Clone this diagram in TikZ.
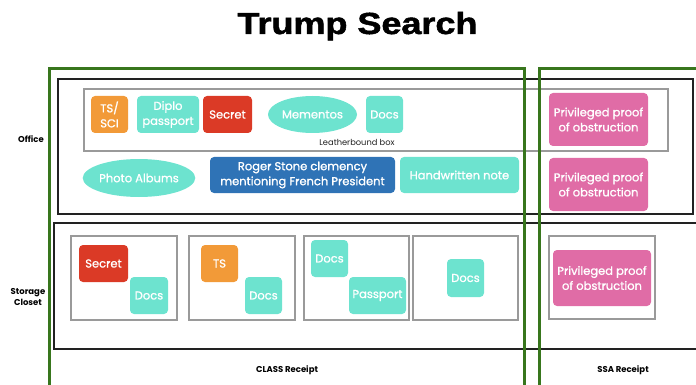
\documentclass[tikz,border=0pt]{standalone}
\usepackage{fontspec}
\setmainfont{Poppins}
\newfontfamily\itemfont{Poppins}[FakeBold=1.1]
\newfontfamily\titlefont{Liberation Sans}[BoldFeatures={FakeBold=1.6}]
\usetikzlibrary{shapes.geometric}
\definecolor{gframe}{HTML}{38761D}
\definecolor{teal}{HTML}{6DE3CF}
\definecolor{orng}{HTML}{F29A38}
\definecolor{redc}{HTML}{DB3A26}
\definecolor{bluec}{HTML}{2F73B6}
\definecolor{pinkc}{HTML}{E06CA6}
\definecolor{grayl}{HTML}{9A9A9A}
\definecolor{darkl}{HTML}{222222}
\tikzset{
  item/.style={rounded corners=4pt, text=white, align=center, inner sep=1pt,
    font=\itemfont\fontsize{11.5}{15}\selectfont, minimum height=37pt},
  tealbox/.style={item, fill=teal},
  orangebox/.style={item, fill=orng},
  redbox/.style={item, fill=redc},
  bluebox/.style={item, fill=bluec},
  pinkbox/.style={item, fill=pinkc},
  tealell/.style={ellipse, fill=teal, text=white, inner sep=0pt,
    font=\itemfont\fontsize{11.5}{15}\selectfont},
  roomframe/.style={draw=darkl, line width=1.5pt},
  grayframe/.style={draw=grayl, line width=1.5pt},
  greenframe/.style={draw=gframe, line width=3pt},
  sidelabel/.style={font=\fontsize{8.5}{11}\selectfont\bfseries, align=center},
}
\begin{document}
\begin{tikzpicture}[x=1pt,y=-1pt]
\useasboundingbox (0,0) rectangle (696,385);
\clip (0,0) rectangle (696,385);
% title
\node[anchor=base, inner sep=0pt] (title) at (357.5,34)
  {\scalebox{1.18}[1]{\titlefont\bfseries\fontsize{30.5}{32}\selectfont Trump Search}};
% room frames
\draw[roomframe] (58,79) rectangle (693,214);
\draw[roomframe] (54,223) rectangle (710,349);
% leatherbound box
\draw[grayframe] (84,89) rectangle (668,151);
\node[font=\fontsize{8.3}{10}\selectfont, text=darkl, inner sep=0pt] (lbl) at (357,142) {Leatherbound box};
% office items
\node[orangebox, minimum width=37pt] (tssci) at (109.5,114.5) {TS/\\SCI};
\node[tealbox, minimum width=62pt] (diplo) at (168,114.5) {Diplo\\passport};
\node[redbox, minimum width=49pt] (secret1) at (227.5,114.5) {Secret};
\node[tealell, minimum width=89pt, minimum height=37pt] (mementos) at (312.5,114.5) {Mementos};
\node[tealbox, minimum width=37pt] (docs1) at (384.5,114.5) {Docs};
\node[tealell, minimum width=104pt, minimum height=38pt] (photos) at (139,178) {Photo Albums};
\node[bluebox, minimum width=185pt, minimum height=36pt] (stone) at (302.5,175) {Roger Stone clemency\\mentioning French President};
\node[tealbox, minimum width=119pt, minimum height=36pt] (note) at (459.5,175) {Handwritten note};
\node[pinkbox, minimum width=99pt, minimum height=53pt] (priv1) at (598.5,119.5) {Privileged proof\\of obstruction};
\node[pinkbox, minimum width=99pt, minimum height=53pt] (priv2) at (598.5,184.5) {Privileged proof\\of obstruction};
% storage sub-boxes
\draw[grayframe] (71,236) rectangle (177,320);
\draw[grayframe] (189,236) rectangle (295,320);
\draw[grayframe] (304,236) rectangle (409,320);
\draw[grayframe] (413,236) rectangle (518,320);
\draw[grayframe] (549,236) rectangle (655,319);
\node[redbox, minimum width=49pt] (secret2) at (103.5,263.5) {Secret};
\node[tealbox, minimum width=38pt] (docs2) at (149,295.5) {Docs};
\node[orangebox, minimum width=37pt] (ts) at (219.5,263.5) {TS};
\node[tealbox, minimum width=37pt] (docs3) at (263.5,295.5) {Docs};
\node[tealbox, minimum width=37pt] (docs4) at (329.5,258.5) {Docs};
\node[tealbox, minimum width=57pt] (passport) at (377.5,295.5) {Passport};
\node[tealbox, minimum width=37pt, minimum height=38pt] (docs5) at (465.5,278) {Docs};
\node[pinkbox, minimum width=98pt, minimum height=56pt] (priv3) at (602,278) {Privileged proof\\of obstruction};
% labels
\node[sidelabel] (office) at (31,139) {Office};
\node[sidelabel] (storage) at (28,297) {Storage\\Closet};
\node[sidelabel] (classr) at (287,370) {CLASS Receipt};
\node[sidelabel] (ssar) at (623,370) {SSA Receipt};
% green receipt frames
\draw[greenframe] (49.5,400) -- (49.5,68.5) -- (524.5,68.5) -- (524.5,400);
\draw[greenframe] (539.5,400) -- (539.5,68.5) -- (710,68.5);
\end{tikzpicture}
\end{document}
